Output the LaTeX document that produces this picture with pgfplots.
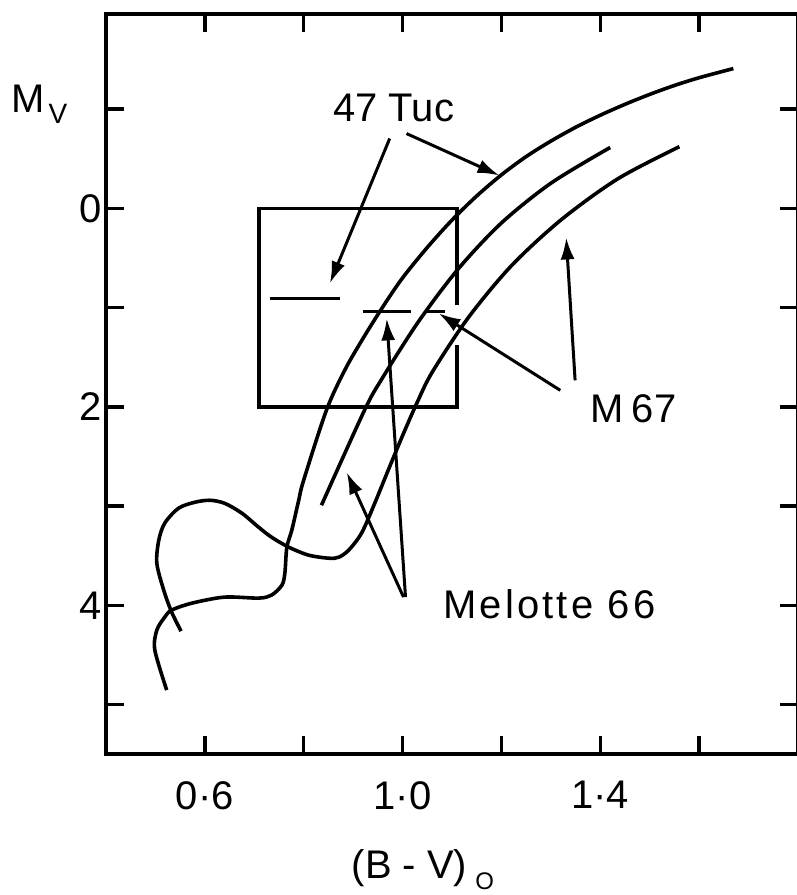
\documentclass[border=0pt]{standalone}
\usepackage{fontspec}
\setmainfont{Liberation Sans}
\usepackage{pgfplots}
\pgfplotsset{compat=1.18}
\usetikzlibrary{arrows.meta}

\begin{document}
\begin{tikzpicture}[font=\fontsize{20}{24}\selectfont]
% page frame: the right-hand spine falls just outside the page
\useasboundingbox (-53pt,-70.5pt) rectangle (345.5pt,377.5pt);
\begin{axis}[
  at={(0,0)}, anchor=south west,
  scale only axis, width=346.5pt, height=370.5pt,
  xmin=0.4, xmax=1.8, ymin=-1.96, ymax=5.5,
  y dir=reverse,
  axis line style={line width=2pt},
  tick align=inside, major tick length=9pt,
  every tick/.style={line width=1.8pt, black},
  xtick={0.6,0.8,1.0,1.2,1.4,1.6},
  xticklabels={0·6,,1·0,,1·4,},
  ytick={-1,0,1,2,3,4,5},
  yticklabels={,0,,2,,4,},
  xticklabel style={yshift=-10pt},
  yticklabel style={xshift=1.5pt},
  clip=false,
  every axis plot post/.append style={black, mark=none},
]

% 47 Tuc: main sequence turn-off, subgiant and giant branch
\addplot[line width=1.8pt, smooth] coordinates {
  (0.523,4.854) (0.499,4.451) (0.503,4.250) (0.519,4.119) (0.533,4.048)
  (0.574,3.978) (0.640,3.917) (0.709,3.927) (0.735,3.897) (0.756,3.797)
  (0.762,3.676) (0.766,3.414) (0.776,3.243) (0.790,2.941) (0.800,2.739)
  (0.846,2.034) (0.883,1.631) (0.920,1.310) (0.962,0.977) (1.000,0.700)
  (1.050,0.393) (1.100,0.117) (1.150,-0.126) (1.200,-0.339) (1.250,-0.523)
  (1.300,-0.679) (1.350,-0.818) (1.400,-0.940) (1.450,-1.050) (1.500,-1.150)
  (1.550,-1.240) (1.600,-1.318) (1.669,-1.410)
};

% Melotte 66: giant branch
\addplot[line width=1.8pt, smooth] coordinates {
  (0.836,2.991) (0.923,2.034) (0.958,1.719) (1.032,1.142) (1.113,0.607)
  (1.200,0.146) (1.301,-0.258) (1.420,-0.615)
};

% M67: turn-off hook, subgiant branch and giant branch
\addplot[line width=1.8pt, smooth] coordinates {
  (0.552,4.260) (0.533,4.068) (0.517,3.847) (0.503,3.575) (0.507,3.343)
  (0.519,3.172) (0.547,3.021) (0.580,2.961) (0.610,2.941) (0.640,2.971)
  (0.675,3.071) (0.709,3.213) (0.735,3.313) (0.770,3.414) (0.810,3.494)
  (0.851,3.525) (0.871,3.515) (0.891,3.444) (0.917,3.273) (0.943,2.980)
  (0.970,2.650) (1.000,2.290) (1.030,1.950) (1.060,1.650) (1.133,1.100)
  (1.220,0.578) (1.321,0.113) (1.436,-0.301) (1.560,-0.623)
};

% horizontal-branch / clump levels
\addplot[line width=1.8pt] coordinates {(0.731,0.906) (0.873,0.906)};
\addplot[line width=1.8pt] coordinates {(0.921,1.037) (1.018,1.037)};
\addplot[line width=1.8pt] coordinates {(1.048,1.037) (1.085,1.037)};

% box
\addplot[line width=1.7pt] coordinates {
  (1.11,0.977) (1.11,0) (0.71,0) (0.71,2) (1.11,2) (1.11,1.380)
};

% arrows from the cluster names
\pgfplotsset{lbl/.style={line width=1.5pt, -{Latex[length=11pt,width=7pt]}}}
\addplot[lbl] coordinates {(0.974,-0.705) (0.853,0.755)};
\addplot[lbl] coordinates {(1.008,-0.755) (1.196,-0.332)};
\addplot[lbl] coordinates {(1.319,1.833) (1.073,1.057)};
\addplot[lbl] coordinates {(1.349,1.732) (1.331,0.292)};
\addplot[lbl] coordinates {(1.002,3.917) (0.887,2.659)};
\addplot[lbl] coordinates {(1.006,3.917) (0.968,1.108)};

% cluster names
\node at (axis cs:0.982,-1.017) {47 Tuc};
\node at (axis cs:1.467,2.014) {M\kern4pt 67};
\node[font=\fontsize{20}{24}\selectfont\addfontfeatures{LetterSpace=8}] at (axis cs:1.297,3.988) {Melotte 66};

% axis titles
\node at (axis cs:0.243,-1.103) {M};
\node[font=\fontsize{14}{16}\selectfont] at (axis cs:0.303,-0.957) {V};
\node at (axis cs:1.014,6.647) {(B - V)};
\node[font=\fontsize{12}{14}\selectfont, inner sep=1pt] at (axis cs:1.166,6.78) {O};
\end{axis}
\end{tikzpicture}
\end{document}
